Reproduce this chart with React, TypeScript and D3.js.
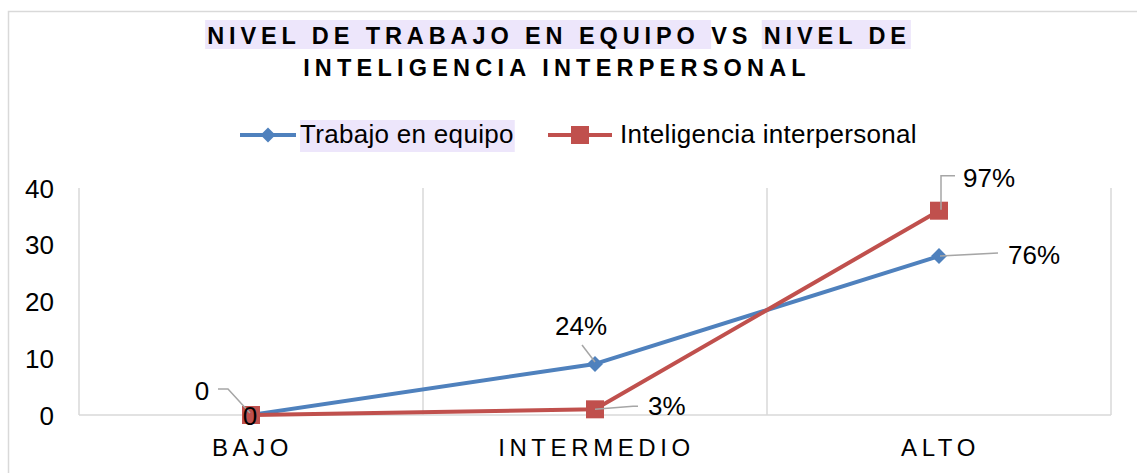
import React, { useEffect, useRef } from 'react';
import * as d3 from 'd3';

const categories = ['BAJO', 'INTERMEDIO', 'ALTO'];
const trabajoValues = [0, 9, 28];
const inteligenciaValues = [0, 1, 36];
const trabajoLabels = ['0', '24%', '76%'];
const inteligenciaLabels = ['0', '3%', '97%'];
const yTicks = [0, 10, 20, 30, 40];

const titleLine1 = 'NIVEL DE TRABAJO EN EQUIPO VS NIVEL DE';
const titleLine2 = 'INTELIGENCIA INTERPERSONAL';

const BLUE = '#4F81BD';
const RED = '#C0504D';
const GRID = '#d9d9d9';
const LEADER = '#a6a6a6';
const HIGHLIGHT = '#ede6fb';
const FONT = '"Liberation Sans", Arial, sans-serif';

// label placement relative to the point: text offset, anchor, leader path
type LabelPos = { dx: number; dy: number; anchor: string; leader?: [number, number][] };

const trabajoLabelPos: LabelPos[] = [
  { dx: -49, dy: -15, anchor: 'middle', leader: [[-33, -26], [-23, -26], [-1, -2]] },
  { dx: -14, dy: -29, anchor: 'middle', leader: [[-13, -19], [0, -2]] },
  { dx: 69, dy: 8, anchor: 'start', leader: [[1, 0], [59, -3]] },
];
const inteligenciaLabelPos: LabelPos[] = [
  { dx: -1, dy: 10, anchor: 'middle' },
  { dx: 53, dy: 6, anchor: 'start', leader: [[0, 0], [38, -3], [43, -3]] },
  { dx: 24, dy: -24, anchor: 'start', leader: [[2, -1], [2, -35], [16, -35]] },
];

type Sel = d3.Selection<any, unknown, null, undefined>;

const addText = (parent: Sel, x: number, y: number, str: string, size: number, anchor = 'start', spacing = 0, bold = false) =>
  parent.append('text')
    .attr('x', x).attr('y', y)
    .attr('text-anchor', anchor)
    .style('font-family', FONT)
    .style('font-size', `${size}px`)
    .style('font-weight', bold ? 'bold' : 'normal')
    .style('letter-spacing', `${spacing}px`)
    .text(str);

const ChartBox: React.FC = () => {
  const svgRef = useRef<SVGSVGElement>(null);
  const width = 1137;
  const height = 473;

  useEffect(() => {
    if (!svgRef.current) return;
    const svg = d3.select(svgRef.current) as unknown as Sel;
    svg.selectAll('*').remove();

    const plot = { left: 79, right: 1111, top: 188, bottom: 415 };

    const x = d3.scaleBand().domain(categories).range([plot.left, plot.right]).padding(0);
    const y = d3.scaleLinear().domain([0, 40]).range([plot.bottom, plot.top]);
    const cx = (c: string) => (x(c) || 0) + x.bandwidth() / 2;

    // outer chart border
    svg.append('rect')
      .attr('x', 8.5).attr('y', 11.5)
      .attr('width', 1140).attr('height', 480)
      .attr('fill', 'white').attr('stroke', '#d9d9d9').attr('stroke-width', 1.5);

    // title, with highlighted runs behind the first line
    const titleG = svg.append('g');
    const t1 = addText(titleG, 559, 44, titleLine1, 23.5, 'middle', 4.9, true);
    const node1 = t1.node() as SVGTextElement;
    const hl = (from: number, to: number) => {
      const x0 = node1.getStartPositionOfChar(from).x - 2;
      const x1 = node1.getEndPositionOfChar(to).x;
      titleG.insert('rect', 'text')
        .attr('x', x0).attr('y', 20).attr('width', x1 - x0).attr('height', 29)
        .attr('fill', HIGHLIGHT);
    };
    hl(0, 26);
    hl(titleLine1.length - 8, titleLine1.length - 1);
    addText(titleG, 557, 76, titleLine2, 23.5, 'middle', 5.2, true);

    // legend
    const diamond = (r: number) => `M0,${-r}L${r},0L0,${r}L${-r},0Z`;
    const lg = svg.append('g');
    lg.append('line').attr('x1', 240).attr('x2', 296).attr('y1', 135).attr('y2', 135)
      .attr('stroke', BLUE).attr('stroke-width', 4);
    lg.append('path').attr('d', diamond(7.5))
      .attr('transform', 'translate(268,135)').attr('fill', BLUE);
    const lt1 = addText(lg, 300, 143, 'Trabajo en equipo', 26, 'start', 0.3);
    const bb = (lt1.node() as SVGTextElement).getBBox();
    lg.insert('rect', 'text').attr('x', bb.x).attr('y', 120)
      .attr('width', bb.width + 1).attr('height', 32).attr('fill', HIGHLIGHT);

    lg.append('line').attr('x1', 548).attr('x2', 612).attr('y1', 135).attr('y2', 135)
      .attr('stroke', RED).attr('stroke-width', 4);
    lg.append('rect').attr('x', 571).attr('y', 126).attr('width', 18).attr('height', 18).attr('fill', RED);
    addText(lg, 620, 143, 'Inteligencia interpersonal', 26, 'start', 0.3);

    // gridlines (vertical, category boundaries)
    const bounds = [...categories.map(c => x(c) || 0), plot.right];
    svg.append('g').selectAll('line').data(bounds).enter().append('line')
      .attr('x1', d => d).attr('x2', d => d)
      .attr('y1', plot.top).attr('y2', plot.bottom)
      .attr('stroke', GRID).attr('stroke-width', 1.5);
    svg.append('line')
      .attr('x1', plot.left).attr('x2', plot.right)
      .attr('y1', plot.bottom).attr('y2', plot.bottom)
      .attr('stroke', GRID).attr('stroke-width', 1.5);

    // y axis tick labels
    const yAxisG = svg.append('g');
    yTicks.forEach(d => addText(yAxisG, 54, y(d) + 9.5, String(d), 26, 'end'));

    // x axis labels
    const xAxisG = svg.append('g');
    categories.forEach(c => addText(xAxisG, cx(c) + 1.5, 456, c, 24, 'middle', 4.6));

    const line = d3.line<number>().x((_, i) => cx(categories[i])).y(d => y(d));

    const series = [
      { values: trabajoValues, labels: trabajoLabels, pos: trabajoLabelPos, color: BLUE, shape: 'diamond' },
      { values: inteligenciaValues, labels: inteligenciaLabels, pos: inteligenciaLabelPos, color: RED, shape: 'square' },
    ];

    series.forEach(s => {
      svg.append('path').datum(s.values)
        .attr('d', line).attr('fill', 'none')
        .attr('stroke', s.color).attr('stroke-width', 4).attr('stroke-linejoin', 'round');
    });

    series.forEach(s => {
      const g = svg.append('g');
      s.values.forEach((v, i) => {
        const px = cx(categories[i]);
        const py = y(v);
        if (s.shape === 'diamond') {
          g.append('path').attr('d', diamond(8))
            .attr('transform', `translate(${px},${py})`).attr('fill', s.color);
        } else {
          g.append('rect').attr('x', px - 9).attr('y', py - 9)
            .attr('width', 18).attr('height', 18).attr('fill', s.color);
        }
      });
    });

    // data labels with leader lines
    series.forEach(s => {
      const g = svg.append('g');
      s.values.forEach((v, i) => {
        const px = cx(categories[i]);
        const py = y(v);
        const p = s.pos[i];
        if (p.leader) {
          g.append('path')
            .attr('d', d3.line()(p.leader.map(([a, b]) => [px + a, py + b] as [number, number])))
            .attr('fill', 'none').attr('stroke', LEADER).attr('stroke-width', 1.5);
        }
        addText(g, px + p.dx, py + p.dy, s.labels[i], 26, p.anchor);
      });
    });
  }, []);

  return <svg ref={svgRef} width={width} height={height} style={{ display: 'block' }} />;
};

export default function App() {
  return (
    <div style={{ position: 'fixed', left: 0, top: 0, background: 'white' }}>
      <ChartBox />
    </div>
  );
}
